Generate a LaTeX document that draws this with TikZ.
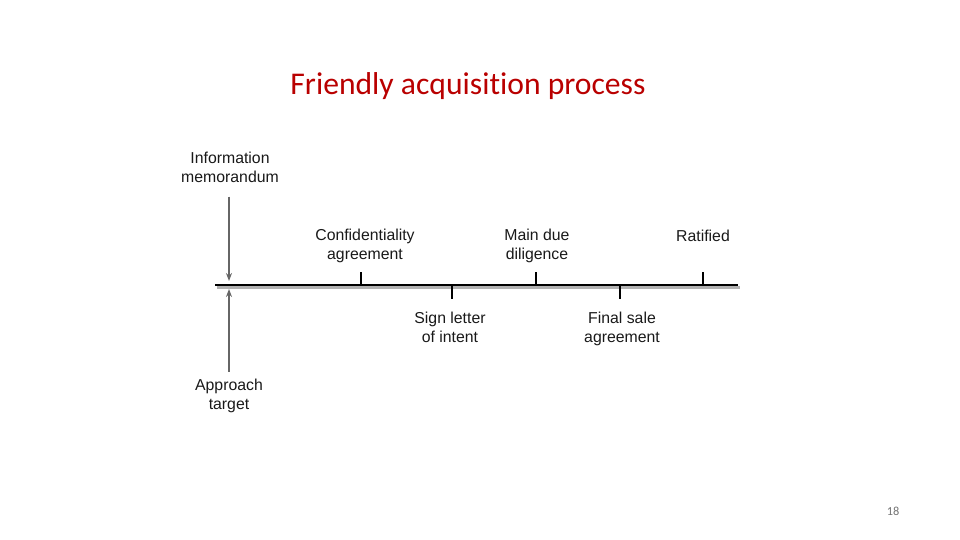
\documentclass[tikz,border=0pt]{standalone}
\usepackage{fontspec}
\setmainfont{Carlito}[Ligatures=NoCommon]
\newfontfamily\labelfont{Liberation Sans}
\usepackage{xcolor}
\usetikzlibrary{arrows.meta}
\definecolor{titlered}{RGB}{185,0,0}

\begin{document}
\begin{tikzpicture}[
            x=0.02cm, y=-0.02cm,
            lbl/.style={align=center, inner sep=0pt, text=black!90, font=\labelfont\fontsize{9}{10.8}\selectfont},
            tickline/.style={line width=1.3pt, black},
            feed/.style={draw=black!60, line width=0.8pt, -{Stealth[length=1.6mm, width=1.2mm]}}
        ]
            \useasboundingbox (0,0) rectangle (960,540);

            % Title
            \node[text=titlered, font=\fontsize{18}{22}\selectfont] (title) at (468,86) {Friendly acquisition process};

            % Timeline
            \coordinate (start) at (215,285);
            \coordinate (end) at (738,285);
            \draw[black!30, line width=1.5pt] ([shift={(2,2.5)}]start) -- ([shift={(2,2.5)}]end);
            \draw[line width=1.6pt] (start) -- (end);

            % Ticks
            \coordinate (conf) at (361,285);
            \coordinate (loi) at (452,285);
            \coordinate (due) at (536,285);
            \coordinate (sale) at (620,285);
            \coordinate (rat) at (703,285);
            \draw[tickline] (conf) -- ++(0,-13);
            \draw[tickline] (due) -- ++(0,-13);
            \draw[tickline] (rat) -- ++(0,-13);
            \draw[tickline] (loi) -- ++(0,14);
            \draw[tickline] (sale) -- ++(0,14);

            % Labels
            \node[lbl] (info) at (230,167) {Information\\memorandum};
            \node[lbl] (confl) at (365,246) {Confidentiality\\agreement};
            \node[lbl] (duel) at (537,246) {Main due\\diligence};
            \node[lbl] (ratl) at (703,236) {Ratified};
            \node[lbl] (loil) at (450,327) {Sign letter\\of intent};
            \node[lbl] (salel) at (622,329) {Final sale\\agreement};
            \node[lbl] (appr) at (229,396) {Approach\\target};

            % Arrows
            \coordinate (infoin) at (229,281);
            \coordinate (apprin) at (229,289);
            \draw[feed, shorten <=8pt] (info.south -| infoin) -- (infoin);
            \draw[feed, shorten <=4pt] (appr.north -| apprin) -- (apprin);

            % Page number
            \node[text=black!55, font=\fontsize{7}{8}\selectfont] (page) at (893,511) {18};
        \end{tikzpicture}
\end{document}
